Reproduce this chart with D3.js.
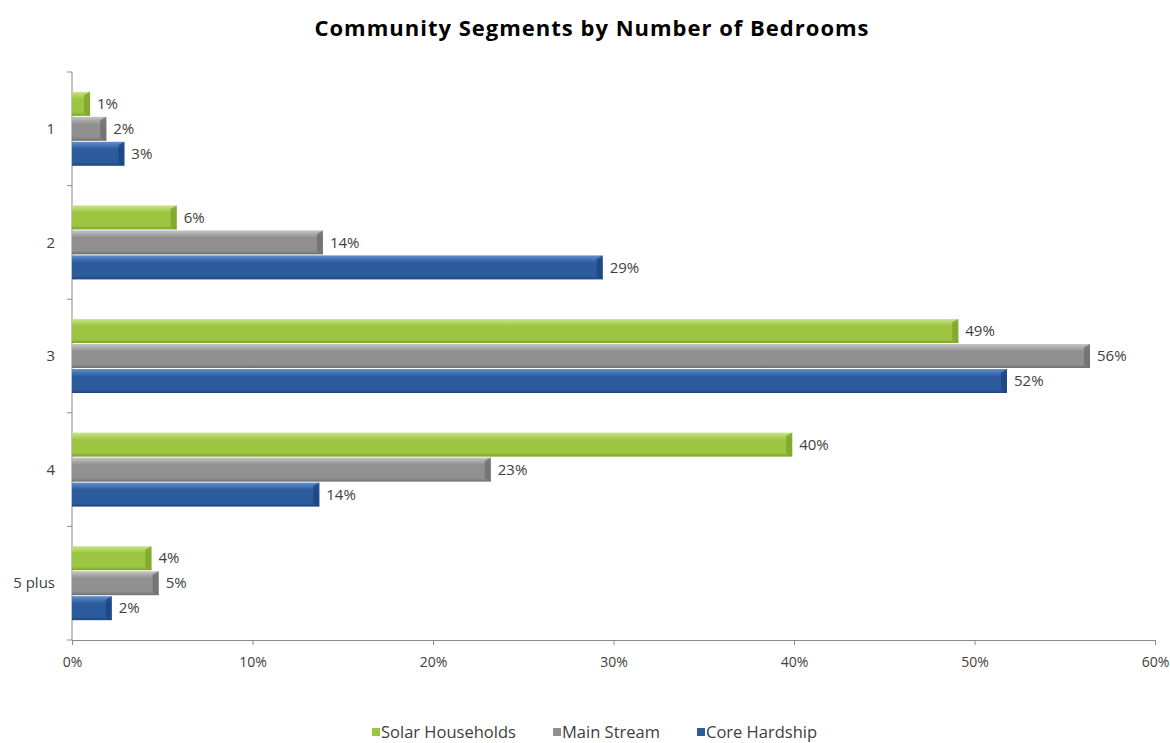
<!DOCTYPE html>
<html>
<head>
<meta charset="utf-8">
<script src="https://cdn.jsdelivr.net/npm/d3@7"></script>
<style>
  body { margin: 0; background: #fff; }
  text { font-family: "Open Sans", "Liberation Sans", sans-serif; }
</style>
</head>
<body>
<svg id="chart" width="1170" height="743"></svg>
<script>
const categories = ["1", "2", "3", "4", "5 plus"];
const seriesNames = ["Solar Households", "Main Stream", "Core Hardship"];
const solar = [1.0, 5.8, 49.1, 39.9, 4.4];
const mainStream = [1.9, 13.9, 56.4, 23.2, 4.8];
const coreHardship = [2.9, 29.4, 51.8, 13.7, 2.2];
const xTicks = [0, 10, 20, 30, 40, 50, 60];

const seriesValues = [solar, mainStream, coreHardship];
const colors = [
  { light: "#c9e38a", mid: "#9cc63f", dark: "#7aa22a" },
  { light: "#c4c4c4", mid: "#909090", dark: "#6e6e6e" },
  { light: "#5f8fcc", mid: "#2c5c9e", dark: "#1d4580" }
];

const svg = d3.select("#chart");
const margin = { top: 72, right: 15, bottom: 103, left: 72 };
const width = 1170 - margin.left - margin.right;
const height = 743 - margin.top - margin.bottom;

const defs = svg.append("defs");
colors.forEach((c, i) => {
  const g = defs.append("linearGradient")
    .attr("id", "grad" + i)
    .attr("x1", "0%").attr("y1", "0%")
    .attr("x2", "0%").attr("y2", "100%");
  g.append("stop").attr("offset", "0%").attr("stop-color", c.light);
  g.append("stop").attr("offset", "30%").attr("stop-color", c.mid);
  g.append("stop").attr("offset", "85%").attr("stop-color", c.mid);
  g.append("stop").attr("offset", "100%").attr("stop-color", c.dark);
});

svg.append("text")
  .attr("x", 592)
  .attr("y", 36)
  .attr("text-anchor", "middle")
  .attr("font-size", 22)
  .attr("font-weight", "bold")
  .attr("letter-spacing", 1)
  .attr("fill", "#000")
  .text("Community Segments by Number of Bedrooms");

const chart = svg.append("g")
  .attr("transform", `translate(${margin.left}, ${margin.top})`);

const x = d3.scaleLinear().domain([0, 60]).range([0, width]);

const y0 = d3.scaleBand()
  .domain(categories)
  .range([0, height])
  .paddingInner(0.34)
  .paddingOuter(0.17);

const y1 = d3.scaleBand()
  .domain(seriesNames)
  .range([0, y0.bandwidth()]);

// x axis
const xAxis = chart.append("g")
  .attr("transform", `translate(0, ${height})`)
  .call(d3.axisBottom(x).tickValues(xTicks).tickFormat(d => d + "%").tickSize(5).tickPadding(12));
xAxis.select(".domain").attr("stroke", "#8a8a8a");
xAxis.selectAll(".tick line").attr("stroke", "#8a8a8a");
xAxis.selectAll("text").attr("font-size", 14).attr("fill", "#404040");

// y axis
const yEdges = d3.scaleLinear().domain([0, categories.length]).range([0, height]);
const yAxis = chart.append("g");
yAxis.append("line")
  .attr("x1", 0).attr("x2", 0)
  .attr("y1", 0).attr("y2", height)
  .attr("stroke", "#8a8a8a");
yAxis.selectAll("line.tick")
  .data(d3.range(categories.length + 1))
  .enter().append("line")
  .attr("class", "tick")
  .attr("x1", -5).attr("x2", 0)
  .attr("y1", d => yEdges(d)).attr("y2", d => yEdges(d))
  .attr("stroke", "#8a8a8a");
yAxis.selectAll("text")
  .data(categories)
  .enter().append("text")
  .attr("x", -17)
  .attr("y", d => y0(d) + y0.bandwidth() / 2)
  .attr("dy", "0.35em")
  .attr("text-anchor", "end")
  .attr("font-size", 15)
  .attr("fill", "#404040")
  .text(d => d);

// bars
const rows = [];
categories.forEach((cat, ci) => {
  seriesNames.forEach((s, si) => {
    rows.push({ cat, s, si, value: seriesValues[si][ci] });
  });
});

const bars = chart.selectAll("g.bar")
  .data(rows)
  .enter().append("g")
  .attr("class", "bar")
  .attr("transform", d => `translate(0, ${y0(d.cat) + y1(d.s)})`);

bars.append("rect")
  .attr("x", 0)
  .attr("y", 0.5)
  .attr("width", d => x(d.value))
  .attr("height", y1.bandwidth() - 1)
  .attr("fill", d => `url(#grad${d.si})`);

// bevel on the right end
bars.append("path")
  .attr("d", d => {
    const w = x(d.value), h = y1.bandwidth() - 1, b = Math.min(6, w / 2);
    return `M${w},0.5 L${w},${h + 0.5} L${w - b},${h - 3} L${w - b},4 Z`;
  })
  .attr("fill", d => colors[d.si].dark)
  .attr("opacity", 0.8);

bars.append("text")
  .attr("x", d => x(d.value) + 7)
  .attr("y", y1.bandwidth() / 2)
  .attr("dy", "0.35em")
  .attr("font-size", 15)
  .attr("fill", "#404040")
  .text(d => Math.round(d.value) + "%");

// legend
const legendX = [372, 553, 697];
const legend = svg.append("g").attr("transform", "translate(0, 738)");
seriesNames.forEach((s, i) => {
  legend.append("rect")
    .attr("x", legendX[i])
    .attr("y", -10)
    .attr("width", 8)
    .attr("height", 8)
    .attr("fill", colors[i].mid);
  legend.append("text")
    .attr("x", legendX[i] + 9)
    .attr("y", 0)
    .attr("font-size", 16.5)
    .attr("fill", "#404040")
    .text(s);
});
</script>
</body>
</html>
